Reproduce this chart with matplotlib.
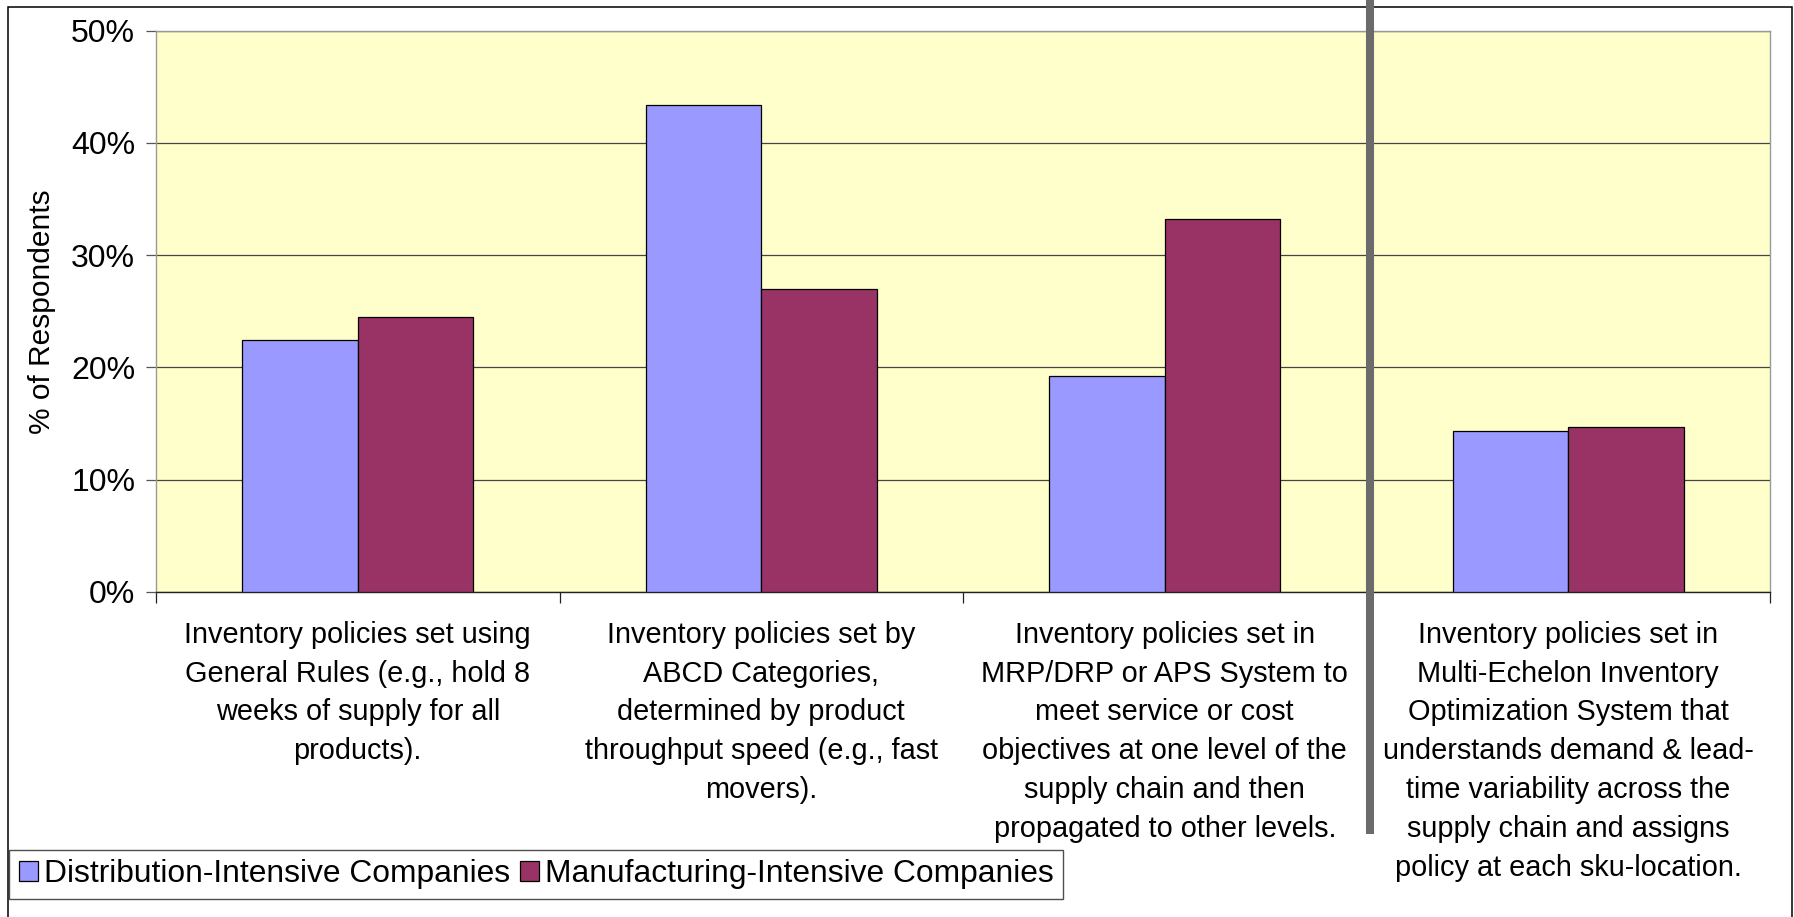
import matplotlib
matplotlib.use("Agg")
import matplotlib.pyplot as plt
import numpy as np
from matplotlib.lines import Line2D
from matplotlib.patches import Rectangle
from matplotlib.ticker import FixedLocator, PercentFormatter

plt.rcParams["font.family"] = ["Liberation Sans", "DejaVu Sans"]

# survey answers, share of respondents per policy type
categories = [
    "Inventory policies set using\nGeneral Rules (e.g., hold 8\nweeks of supply for all\nproducts).",
    "Inventory policies set by\nABCD Categories,\ndetermined by product\nthroughput speed (e.g., fast\nmovers).",
    "Inventory policies set in\nMRP/DRP or APS System to\nmeet service or cost\nobjectives at one level of the\nsupply chain and then\npropagated to other levels.",
    "Inventory policies set in\nMulti-Echelon Inventory\nOptimization System that\nunderstands demand & lead-\ntime variability across the\nsupply chain and assigns\npolicy at each sku-location.",
]
series_names = ["Distribution-Intensive Companies", "Manufacturing-Intensive Companies"]
distribution = [0.224, 0.434, 0.192, 0.1435]
manufacturing = [0.245, 0.270, 0.332, 0.1465]
y_ticks = [0.0, 0.1, 0.2, 0.3, 0.4, 0.5]

W, H = 1794, 917
fig = plt.figure(figsize=(W / 100, H / 100), dpi=100)
fig.patch.set_facecolor("white")

left, right, top, bottom = 156, 1770, 30.7, 591.7
ax = fig.add_axes([left / W, 1 - bottom / H, (right - left) / W, (bottom - top) / H])
ax.set_facecolor("#FFFFCC")

x = np.arange(len(categories))
bw = 1 / 3.5
ax.bar(x - bw / 2, distribution, width=bw, color="#9999FF",
       edgecolor="black", linewidth=0.9, label=series_names[0], zorder=3)
ax.bar(x + bw / 2, manufacturing, width=bw, color="#993366",
       edgecolor="black", linewidth=0.9, label=series_names[1], zorder=3)

ax.set_xlim(-0.5, len(categories) - 0.5)
ax.set_ylim(0, 0.5)

# y axis
ax.yaxis.set_major_locator(FixedLocator(y_ticks))
ax.yaxis.set_major_formatter(PercentFormatter(1.0, decimals=0))
ax.tick_params(axis="y", direction="out", length=7, width=0.9, color="#555555",
               labelsize=23, pad=8)
ax.grid(axis="y", color="#444444", linewidth=0.9, zorder=1)
ax.set_ylabel("% of Respondents", fontsize=21.5, labelpad=11)

# x axis: tick marks between groups, labels under each group
ax.set_xticks(np.arange(-0.5, len(categories)), labels=[""] * (len(categories) + 1))
ax.set_xticks(x, labels=categories, minor=True)
ax.tick_params(axis="x", which="major", direction="out", length=8, width=0.9,
               color="#222222")
ax.tick_params(axis="x", which="minor", length=0, labelsize=20.8, pad=21)
for lbl in ax.get_xticklabels(minor=True):
    lbl.set_linespacing(1.49)
    lbl.set_verticalalignment("top")

for side in ["top", "right", "left"]:
    ax.spines[side].set_color("#999999")
    ax.spines[side].set_linewidth(1.0)
ax.spines["bottom"].set_color("#222222")
ax.spines["bottom"].set_linewidth(1.0)

# chart area border
fig.add_artist(Rectangle((8 / W, -0.02), (1792 - 8) / W, 1.02 - 7 / H,
                         transform=fig.transFigure, fill=False,
                         edgecolor="black", linewidth=1.1, zorder=0))

# divider between the conventional approaches and multi-echelon optimization
fig.add_artist(Line2D([1370 / W, 1370 / W], [1.0, 1 - 834 / H],
                      transform=fig.transFigure, color="#6b6b6b",
                      linewidth=5.8, solid_capstyle="butt", zorder=5))

leg = fig.legend(loc="lower left", bbox_to_anchor=(9 / W, 1 - 899 / H),
                 ncol=2, fontsize=22.9, frameon=True, fancybox=False,
                 edgecolor="#222222", handlelength=0.6, handleheight=0.6,
                 handletextpad=0.2, columnspacing=0.3, borderpad=0.3,
                 borderaxespad=0)
leg.get_frame().set_linewidth(1.0)

fig.savefig("out.png", dpi=100)
